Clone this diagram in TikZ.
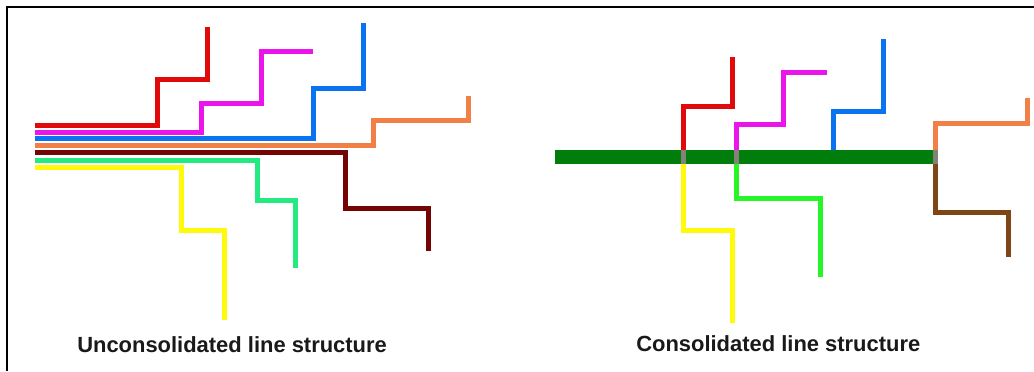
\documentclass[tikz,border=0pt]{standalone}
\usepackage{fontspec}
\setmainfont{Liberation Sans}
\definecolor{linered}{RGB}{225, 10, 10}
\definecolor{linemag}{RGB}{235, 20, 235}
\definecolor{lineblue}{RGB}{10, 115, 240}
\definecolor{lineorange}{RGB}{240, 128, 70}
\definecolor{linedkred}{RGB}{115, 5, 5}
\definecolor{linespring}{RGB}{35, 235, 130}
\definecolor{lineyellow}{RGB}{255, 250, 10}
\definecolor{linelime}{RGB}{40, 245, 40}
\definecolor{linebrown}{RGB}{125, 70, 20}
\definecolor{bargreen}{RGB}{0, 125, 10}
\definecolor{crossgray}{RGB}{130, 130, 120}
\usetikzlibrary{positioning}

\begin{document}
\begin{tikzpicture}[x=0.025cm, y=-0.025cm,
  route/.style={line width=0.125cm},
  caption/.style={font=\fontsize{15.6}{18}\selectfont\bfseries, text=black!90, inner sep=0pt, anchor=base west}]
  \useasboundingbox (0, 0) rectangle (1034, 371);

  % Frame (top and left edges only)
  \draw[line width=0.05cm] (1034, 7) -- (7, 7) -- (7, 371);

  % Unconsolidated: every line runs on its own
  \draw[route, linered] (35, 125) -- (157, 125) -- (157, 79) -- (207, 79) -- (207, 27);
  \draw[route, linemag] (35, 132) -- (201, 132) -- (201, 103) -- (261, 103) -- (261, 51) -- (313, 51);
  \draw[route, lineblue] (35, 138) -- (313, 138) -- (313, 88) -- (363, 88) -- (363, 23);
  \draw[route, lineorange] (35, 145) -- (373, 145) -- (373, 120) -- (468, 120) -- (468, 96);
  \draw[route, linedkred] (35, 152) -- (345, 152) -- (345, 208) -- (428, 208) -- (428, 251);
  \draw[route, linespring] (35, 160) -- (257, 160) -- (257, 200) -- (295, 200) -- (295, 268);
  \draw[route, lineyellow] (35, 167) -- (181, 167) -- (181, 230) -- (224, 230) -- (224, 320);

  % Consolidated: one shared trunk
  \draw[line width=0.35cm, bargreen] (555, 157) -- (937, 157);
  \draw[route, linered] (683, 150) -- (683, 106) -- (732, 106) -- (732, 57);
  \draw[route, linemag] (736, 150) -- (736, 124) -- (783, 124) -- (783, 72) -- (827, 72);
  \draw[route, lineblue] (833, 150) -- (833, 111) -- (883, 111) -- (883, 39);
  \draw[route, lineorange] (935, 150) -- (935, 123) -- (1027, 123) -- (1027, 98);
  \draw[route, lineyellow] (683, 164) -- (683, 230) -- (732, 230) -- (732, 323);
  \draw[route, linelime] (736, 164) -- (736, 198) -- (820, 198) -- (820, 277);
  \draw[route, linebrown] (935, 164) -- (935, 212) -- (1008, 212) -- (1008, 257);
  \foreach \xx in {683, 736, 935}
    \draw[route, crossgray] (\xx, 150) -- (\xx, 164);

  % Captions
  \node[caption] (uncons) at (77, 352) {Unconsolidated line structure};
  \node[caption] (cons) at (636, 351) {Consolidated line structure};
\end{tikzpicture}
\end{document}
